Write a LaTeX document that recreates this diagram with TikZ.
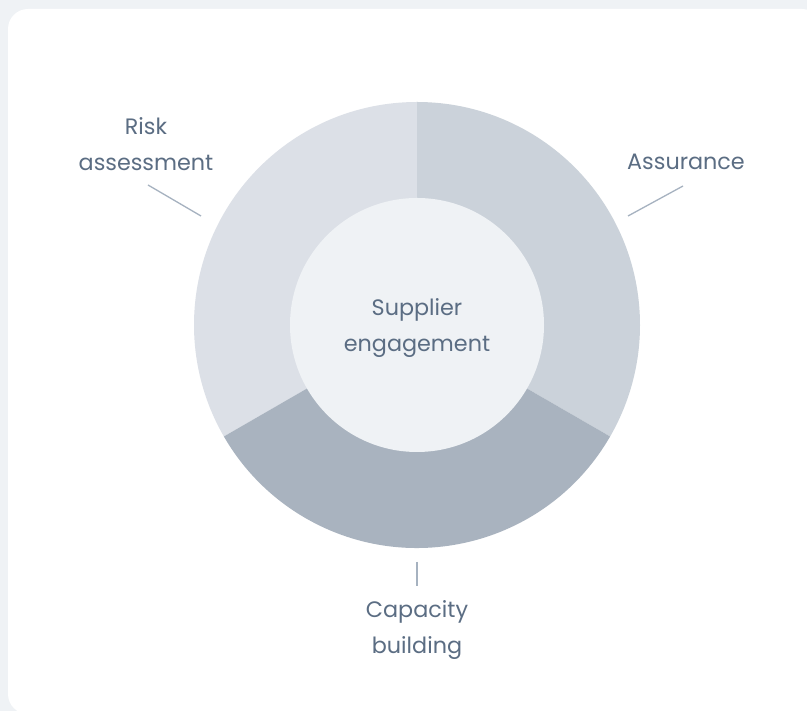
\documentclass[tikz,border=0pt]{standalone}
\usepackage{fontspec}
\setmainfont{Poppins}
\usepackage{tikz}

\definecolor{pagebg}{HTML}{EFF2F5}
\definecolor{riskfill}{HTML}{DCE0E7}
\definecolor{assurefill}{HTML}{CBD2DA}
\definecolor{capfill}{HTML}{A9B3BF}
\definecolor{hubfill}{HTML}{EFF2F5}
\definecolor{labeltext}{HTML}{5B6D83}
\definecolor{leader}{HTML}{A6B2C0}

\tikzset{
  lbl/.style = {text = labeltext, align = center, inner sep = 0pt,
                font = \fontsize{22.3}{36}\selectfont},
  hub/.style = {circle, fill = hubfill, minimum size = 254pt, inner sep = 0pt},
  leaderline/.style = {draw = leader, line width = 1.3pt}
}

\begin{document}
\begin{tikzpicture}[x = 1pt, y = 1pt]
        \useasboundingbox (0,0) rectangle (807,711);
        \fill [pagebg] (0,0) rectangle (807,711);
        \fill [white, rounded corners = 20pt] (8,-3) rectangle (822,702);

        \coordinate (c) at (417,386);

        \fill [riskfill] (c) -- ++(90:223) arc[start angle = 90, end angle = 210, radius = 223] -- cycle;
        \fill [assurefill] (c) -- ++(90:223) arc[start angle = 90, end angle = -30, radius = 223] -- cycle;
        \fill [capfill] (c) -- ++(-30:223) arc[start angle = -30, end angle = -150, radius = 223] -- cycle;

        \node [hub] (engage) at (c) {};
        \node [lbl] (engage-text) at (417,383) {Supplier\\engagement};

        \node [lbl] (risk) at (146,567) {Risk\\assessment};
        \node [lbl] (assure) at (686,549) {Assurance};
        \node [lbl] (capacity) at (417,81) {Capacity\\building};

        \coordinate (risk-a) at (148,526);
        \coordinate (risk-b) at (201,495);
        \coordinate (assure-a) at (683,525);
        \coordinate (assure-b) at (628,495);
        \coordinate (capacity-a) at (417,149);
        \coordinate (capacity-b) at (417,125);

        \draw [leaderline] (risk-a) -- (risk-b);
        \draw [leaderline] (assure-a) -- (assure-b);
        \draw [leaderline] (capacity-a) -- (capacity-b);
    \end{tikzpicture}
\end{document}
